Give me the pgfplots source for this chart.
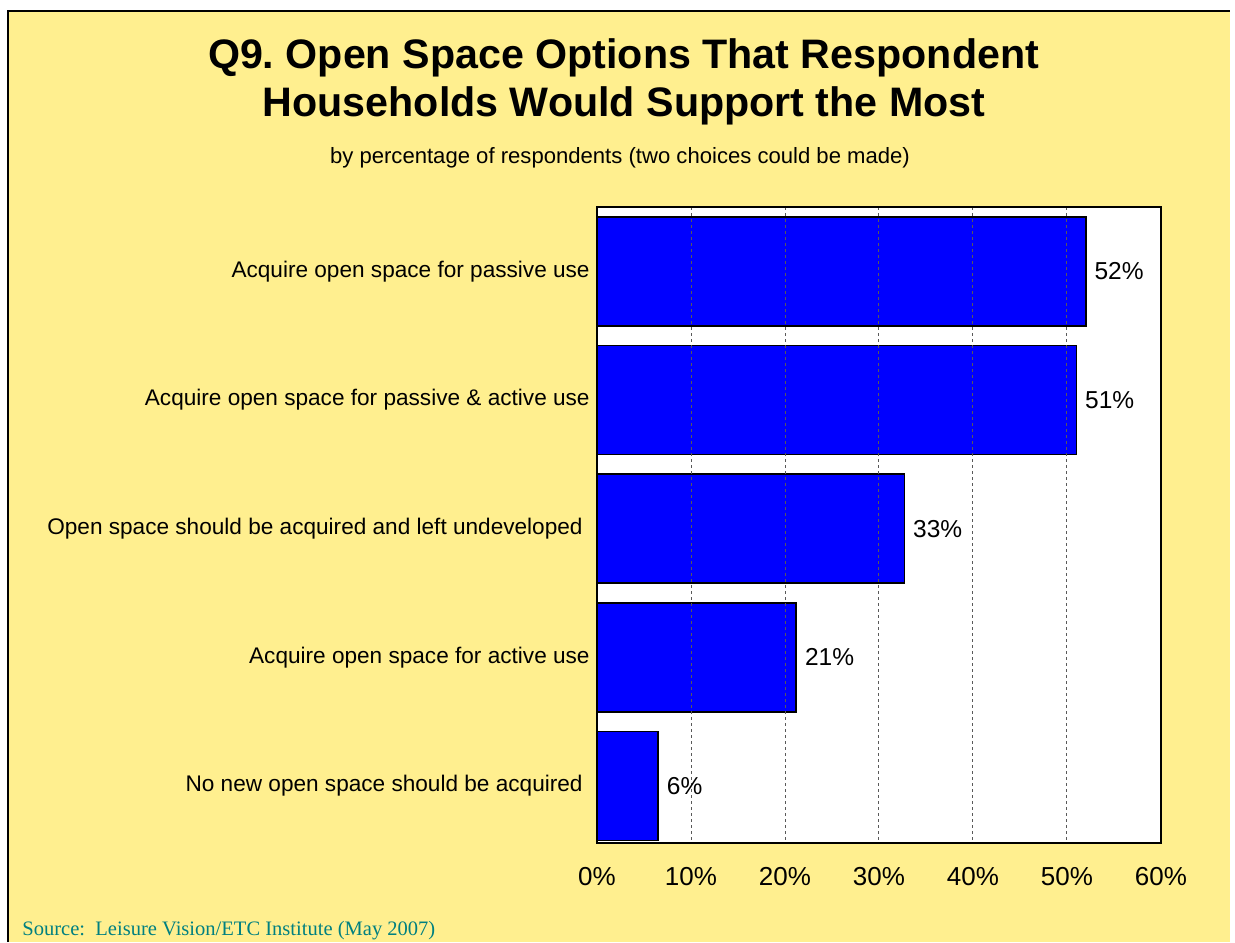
\documentclass[border=0pt]{standalone}
\usepackage{pgfplots}
\pgfplotsset{compat=1.18}
\usepackage{fontspec}
\setmainfont{Liberation Sans}
\newfontfamily\timesfont{Liberation Serif}
\definecolor{bgyellow}{RGB}{255,239,143}
\definecolor{srcteal}{RGB}{0,128,128}
\definecolor{barblue}{RGB}{0,0,255}
\frenchspacing
\begin{document}
\begin{tikzpicture}
\fill[white] (0pt,0pt) rectangle (617.5pt,-471pt);
\fill[bgyellow] (4pt,-5.5pt) rectangle (615pt,-471pt);
\draw[black,line width=0.7pt] (4pt,-471pt) -- (4pt,-5.5pt) -- (615pt,-5.5pt);
\node[anchor=base,inner sep=0pt,font=\fontsize{20.6}{24}\selectfont\bfseries] at (311.75pt,-34pt) {Q9. Open Space Options That Respondent};
\node[anchor=base,inner sep=0pt,font=\fontsize{20.6}{24}\selectfont\bfseries] at (312pt,-58.25pt) {Households Would Support the Most};
\node[anchor=base,inner sep=0pt,font=\fontsize{11.05}{13}\selectfont] at (310pt,-81.5pt) {by percentage of respondents (two choices could be made)};
\node[anchor=base west,inner sep=0pt,font=\timesfont\fontsize{10.27}{12}\selectfont,text=srcteal] at (11pt,-467.5pt) {Source:\ \ Leisure Vision/ETC Institute (May 2007)};
\begin{axis}[
  at={(298.5pt,-421.5pt)}, anchor=south west,
  scale only axis, width=282pt, height=318pt,
  xbar, xmin=0, xmax=60, ymin=0.5, ymax=5.444, y dir=reverse,
  bar width=0.848,
  ytick={1,2,3,4,5},
  yticklabels={Acquire open space for passive use,
               Acquire open space for passive \& active use,
               Open space should be acquired and left undeveloped\rule{3.5pt}{0pt},
               Acquire open space for active use,
               No new open space should be acquired\rule{3.5pt}{0pt}},
  xtick={0,10,20,30,40,50,60},
  xticklabels={0\%,10\%,20\%,30\%,40\%,50\%,60\%},
  major tick length=0pt,
  xmajorgrids,
  grid style={dash pattern=on 1.5pt off 1.5pt, black!65, line width=0.5pt},
  axis line style={line width=1pt},
  axis background/.style={fill=white},
  axis on top,
  yticklabel style={font=\fontsize{11.3}{13}\selectfont, inner sep=0pt, xshift=-3.5pt},
  xticklabel style={font=\fontsize{13}{15}\selectfont, inner sep=0pt, anchor=north, yshift=-12pt},
  point meta=explicit symbolic,
  nodes near coords,
  nodes near coords style={font=\fontsize{12.25}{14}\selectfont, anchor=west, inner sep=0pt, xshift=4pt, text=black},
]
\addplot[fill=barblue, draw=black, line width=0.8pt] coordinates {
  (52.0,1) [52\%]
  (51.0,2) [51\%]
  (32.7,3) [33\%]
  (21.2,4) [21\%]
  (6.5,5) [6\%]
};
\end{axis}
\end{tikzpicture}
\end{document}
